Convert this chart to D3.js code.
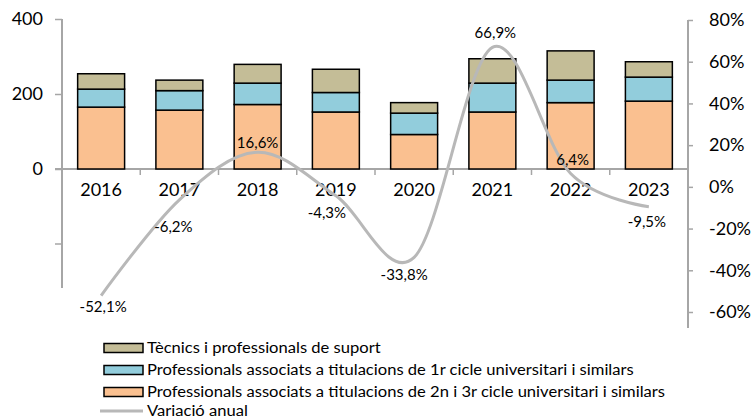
<!DOCTYPE html>
<html lang="ca">
<head>
<meta charset="utf-8">
<title>Professionals per categoria i variació anual</title>
<script src="https://d3js.org/d3.v7.min.js"></script>
<style>
  body { margin: 0; background: #fff; }
  svg { display: block; }
  text { font-family: Lato, "Open Sans", sans-serif; fill: #000; }
</style>
</head>
<body>
<div id="chart"></div>
<script>
// data
var years = ["2016", "2017", "2018", "2019", "2020", "2021", "2022", "2023"];
var segon = [165, 157, 172, 152, 92, 152, 177, 181];   // 2n i 3r cicle
var primer = [48, 52, 57, 52, 57, 77, 60, 64];         // 1r cicle
var tecnics = [41, 28, 50, 62, 28, 65, 78, 41];        // tècnics i professionals de suport
var variacio = [-52.1, -6.2, 16.6, -4.3, -33.8, 66.9, 6.4, -9.5];
var leftTicks = [0, 200, 400];
var rightTicks = [-60, -40, -20, 0, 20, 40, 60, 80];

var seriesNames = ["Tècnics i professionals de suport",
  "Professionals associats a titulacions de 1r cicle universitari i similars",
  "Professionals associats a titulacions de 2n i 3r cicle universitari i similars"];
var lineName = "Variació anual";

var colors = { segon: "#fac090", primer: "#92cddc", tecnics: "#c4bd97", line: "#b8b8b8", axis: "#a6a6a6" };

// label placement relative to the point [dx, dy]
var labelNudge = [[2, 11], [-6, 27], [0, -9], [-9, 17], [-10, 17], [3, -15], [2, -14], [-2, 15]];

var W = 752, H = 419;
var svg = d3.select("#chart").append("svg").attr("width", W).attr("height", H);

var x = d3.scaleBand().domain(years).range([62, 688]).paddingInner(0.4).paddingOuter(0.2);
var step = x.step();
var y = d3.scaleLinear().domain([0, 400]).range([169, 19]);
var yR = d3.scaleLinear().domain([-60, 80]).range([312, 20]);

var rows = years.map(function(yr, i) {
  return { year: yr, segon: segon[i], primer: primer[i], tecnics: tecnics[i] };
});
var stack = d3.stack().keys(["segon", "primer", "tecnics"])(rows);

// left axis
var gL = svg.append("g").attr("transform", "translate(62,0)");
gL.call(d3.axisLeft(y).tickValues(leftTicks).tickSize(7).tickPadding(12));
gL.select(".domain").remove();
gL.append("line").attr("x1", 0).attr("x2", 0).attr("y1", 19).attr("y2", 288)
  .attr("stroke", colors.axis).attr("stroke-width", 2);
gL.append("line").attr("x1", -7).attr("x2", 0).attr("y1", y(-200)).attr("y2", y(-200))
  .attr("stroke", colors.axis).attr("stroke-width", 1.5);
gL.selectAll(".tick line").attr("stroke", colors.axis).attr("stroke-width", 1.5);
gL.selectAll(".tick text").style("font-size", "18px");

// right axis
var gR = svg.append("g").attr("transform", "translate(688,0)");
gR.call(d3.axisRight(yR).tickValues(rightTicks).tickSize(5).tickPadding(16)
  .tickFormat(function(d) { return d + "%"; }));
gR.select(".domain").remove();
gR.append("line").attr("x1", 0).attr("x2", 0).attr("y1", 20).attr("y2", 328)
  .attr("stroke", colors.axis).attr("stroke-width", 2);
gR.selectAll(".tick line").attr("stroke", colors.axis).attr("stroke-width", 1.5);
gR.selectAll(".tick text").style("font-size", "18px");

// category axis at zero
var gX = svg.append("g").attr("transform", "translate(0," + y(0) + ")");
gX.append("line").attr("x1", 55).attr("x2", 688).attr("y1", 0).attr("y2", 0)
  .attr("stroke", colors.axis).attr("stroke-width", 2);
gX.selectAll("line.ct").data(years.slice(1)).enter().append("line").attr("class", "ct")
  .attr("x1", function(d) { return x(d) - (step - x.bandwidth()) / 2; })
  .attr("x2", function(d) { return x(d) - (step - x.bandwidth()) / 2; })
  .attr("y1", 0).attr("y2", 6)
  .attr("stroke", colors.axis).attr("stroke-width", 1.5);
gX.selectAll("text.cat").data(years).enter().append("text").attr("class", "cat")
  .attr("x", function(d) { return x(d) + x.bandwidth() / 2; })
  .attr("y", 27).attr("text-anchor", "middle")
  .style("font-size", "18px").text(function(d) { return d; });

// bars
svg.append("g").selectAll("g").data(stack).enter().append("g")
  .attr("fill", function(s) { return colors[s.key]; })
  .selectAll("rect").data(function(s) { return s; }).enter().append("rect")
    .attr("x", function(d) { return x(d.data.year); })
    .attr("width", x.bandwidth())
    .attr("y", function(d) { return y(d[1]); })
    .attr("height", function(d) { return y(d[0]) - y(d[1]); })
    .attr("stroke", "#000").attr("stroke-width", 1.5);

// annual variation line
var line = d3.line()
  .x(function(d, i) { return x(years[i]) + x.bandwidth() / 2; })
  .y(function(d) { return yR(d); })
  .curve(d3.curveCardinal.tension(0));
svg.append("path").datum(variacio).attr("d", line)
  .attr("fill", "none").attr("stroke", colors.line).attr("stroke-width", 3);

svg.append("g").selectAll("text").data(variacio).enter().append("text")
  .attr("x", function(d, i) { return x(years[i]) + x.bandwidth() / 2 + labelNudge[i][0]; })
  .attr("y", function(d, i) { return yR(d) + labelNudge[i][1]; })
  .attr("dy", "0.35em").attr("text-anchor", "middle")
  .style("font-size", "15px")
  .text(function(d) { return d.toFixed(1).replace(".", ",") + "%"; });

// legend
var legend = svg.append("g");
var legendColors = [colors.tecnics, colors.primer, colors.segon];
var rowY = [348, 370, 392, 411];
seriesNames.forEach(function(name, i) {
  legend.append("rect").attr("x", 104).attr("y", rowY[i] - 4.5).attr("width", 39).attr("height", 9)
    .attr("fill", legendColors[i]).attr("stroke", "#000").attr("stroke-width", 1.5);
});
legend.append("line").attr("x1", 100).attr("x2", 143).attr("y1", rowY[3]).attr("y2", rowY[3])
  .attr("stroke", colors.line).attr("stroke-width", 3);
var labels = legend.selectAll("text").data(seriesNames.concat([lineName])).enter().append("text")
  .attr("x", 147).attr("y", function(d, i) { return rowY[i]; })
  .attr("dy", "0.35em").style("font-size", "14.5px")
  .text(function(d) { return d; });
// fit the longest legend line to the width seen in the reference
var natural = labels.nodes().map(function(n) { return n.getComputedTextLength(); });
var k = (665 - 147) / d3.max(natural);
labels.attr("textLength", function(d, i) { return natural[i] * k; })
  .attr("lengthAdjust", "spacingAndGlyphs");
</script>
</body>
</html>
